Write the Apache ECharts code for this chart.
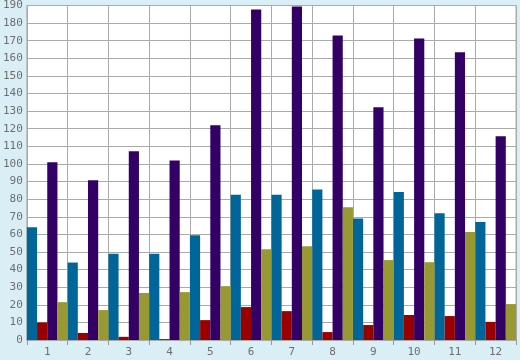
<!DOCTYPE html>
<html>
<head>
<meta charset="utf-8">
<script src="https://cdn.jsdelivr.net/npm/echarts@6/dist/echarts.min.js"></script>
<style>
html,body{margin:0;padding:0;background:#daeef6;}
#c{width:520px;height:360px;}
</style>
</head>
<body>
<div id="c"></div>
<script>
const categories = ['1','2','3','4','5','6','7','8','9','10','11','12'];
const tealValues   = [64, 44, 49, 49, 59.5, 82.5, 82.5, 85.5, 69, 84, 72, 67];
const redValues    = [10, 4, 1.8, 0.5, 11.3, 18.7, 16.4, 4.5, 8.5, 14.2, 13.6, 10.3];
const purpleValues = [101, 90.7, 107.2, 102, 122, 187.7, 189.5, 173, 132.2, 171.3, 163.4, 115.7];
const oliveValues  = [21.5, 17, 26.7, 27.2, 30.6, 51.6, 53.3, 75.4, 45.4, 44.2, 61.3, 20.4];
const yTicks = { min: 0, max: 190, interval: 10 };

const chart = echarts.init(document.getElementById('c'), null, {renderer: 'canvas'});
const labelFont = {color: '#6e6e6e', fontSize: 11, fontFamily: 'DejaVu Sans Mono'};
function bar(name, data, color) {
  return {name, type: 'bar', data, barGap: '0%', barCategoryGap: '0%',
    itemStyle: {color}, emphasis: {disabled: true}, animation: false};
}
chart.setOption({
  backgroundColor: '#daeef6',
  animation: false,
  grid: {left: 26, right: 4, top: 5, bottom: 20, show: true, backgroundColor: '#ffffff', borderColor: '#aaaaaa', borderWidth: 1},
  xAxis: {
    type: 'category', data: categories, boundaryGap: true,
    axisLine: {show: true, lineStyle: {color: '#aaaaaa'}},
    axisTick: {show: true, length: 5, lineStyle: {color: '#999999'}},
    axisLabel: Object.assign({margin: 7}, labelFont),
    splitLine: {show: true, lineStyle: {color: '#aaaaaa', width: 1}}
  },
  yAxis: {
    type: 'value', min: yTicks.min, max: yTicks.max, interval: yTicks.interval,
    axisLine: {show: false}, axisTick: {show: false},
    axisLabel: Object.assign({margin: 4}, labelFont),
    splitLine: {show: true, lineStyle: {color: '#aaaaaa', width: 1}}
  },
  series: [
    bar('A', tealValues, '#006699'),
    bar('B', redValues, '#990000'),
    bar('C', purpleValues, '#330066'),
    bar('D', oliveValues, '#999933')
  ]
});
</script>
</body>
</html>
